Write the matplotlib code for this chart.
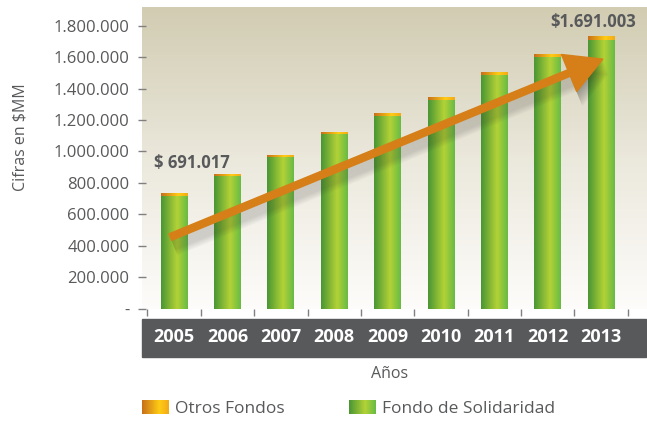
import numpy as np
import matplotlib
matplotlib.use("Agg")
import matplotlib.pyplot as plt
from matplotlib.colors import LinearSegmentedColormap
from matplotlib.ticker import FuncFormatter, FixedLocator
from matplotlib.patches import Rectangle
from matplotlib.legend_handler import HandlerBase
from matplotlib.image import BboxImage
from matplotlib.transforms import Bbox, TransformedBbox
import matplotlib.patheffects as pe

# datos
anios = ["2005", "2006", "2007", "2008", "2009", "2010", "2011", "2012", "2013"]
fondo_solidaridad = [715600, 842400, 963000, 1109500, 1224000, 1328000, 1485000, 1599600, 1708000]
otros_fondos = [19000, 13000, 13000, 13000, 19000, 17000, 19000, 19000, 25000]
etiqueta_ini = "$ 691.017"
etiqueta_fin = "$1.691.003"
yticks = [0, 200000, 400000, 600000, 800000, 1000000, 1200000, 1400000, 1600000, 1800000]

gris = "#58595b"
plt.rcParams['font.family'] = ['Open Sans', 'DejaVu Sans']

cmap_verde = LinearSegmentedColormap.from_list(
    "verde", [(0, "#4a9634"), (0.6, "#b3d236"), (1.0, "#68bb45")])
cmap_naranja = LinearSegmentedColormap.from_list(
    "naranja", [(0, "#c8701a"), (0.65, "#ffcc14"), (1.0, "#f2aa16")])
cmap_fondo = LinearSegmentedColormap.from_list(
    "fondo", [(0, "#fdfcfa"), (0.5, "#ebe8dc"), (1.0, "#d1ccb2")])

fig = plt.figure(figsize=(6.47, 4.21), dpi=100)
ax = fig.add_axes([0.2195, 0.267, 0.779, 0.716])

x = np.arange(len(anios))
grad = np.linspace(0, 1, 100).reshape(1, -1)

# fondo degradado del area de grafico
ax.imshow(np.linspace(0, 1, 100).reshape(-1, 1), extent=[0, 1, 0, 1], origin="lower",
          transform=ax.transAxes, cmap=cmap_fondo, aspect="auto", zorder=0)

b1 = ax.bar(x, fondo_solidaridad, width=0.5, color="#8cc43c", zorder=2, linewidth=0)
b2 = ax.bar(x, otros_fondos, width=0.5, bottom=fondo_solidaridad, color="#f0a81a",
            zorder=2, linewidth=0)

for cont, cm in ((b1, cmap_verde), (b2, cmap_naranja)):
    for r in cont.patches:
        x0, y0 = r.get_x(), r.get_y()
        im = ax.imshow(grad, extent=[x0, x0 + r.get_width(), y0, y0 + r.get_height()],
                       cmap=cm, aspect="auto", zorder=3, interpolation="bilinear")
        im.set_clip_path(r)

# flecha de tendencia con sombra difusa
sombra = [pe.SimplePatchShadow(offset=(0.35 * k, -0.9 * k), shadow_rgbFace="#2a2a2a", alpha=0.035)
          for k in range(12, 0, -1)]
ax.annotate("", xy=(8.03, 1587000), xytext=(-0.07, 455000),
            arrowprops=dict(arrowstyle="simple,head_length=1.05,head_width=1.15,tail_width=0.2",
                            mutation_scale=25, color="#d67f18", shrinkA=0, shrinkB=0,
                            path_effects=sombra + [pe.Normal()]),
            zorder=5)

ax.text(0.34, 925000, etiqueta_ini, ha="center", va="center", fontsize=12,
        fontweight="bold", color=gris, zorder=6)
ax.text(7.85, 1822000, etiqueta_fin, ha="center", va="center", fontsize=12,
        fontweight="bold", color=gris, zorder=6)

ax.set_xlim(-0.6, 8.84)
ax.set_ylim(0, 1917500)
for s in ax.spines.values():
    s.set_visible(False)

ax.set_yticks(yticks)
ax.yaxis.set_major_formatter(FuncFormatter(
    lambda v, p: "-" if v == 0 else f"{int(v):,}".replace(",", ".")))
ax.tick_params(axis="y", direction="inout", length=6, width=1, color="#808080",
               labelsize=12, labelcolor=gris, pad=6)

ax.set_xticks(x)
ax.set_xticklabels(anios)
ax.xaxis.set_minor_locator(FixedLocator(np.arange(-0.5, 9, 1.0)))
ax.tick_params(axis="x", which="major", length=0, pad=14, labelsize=13, labelcolor="white")
for t in ax.get_xticklabels():
    t.set_fontweight("bold")
ax.tick_params(axis="x", which="minor", direction="out", length=5, width=1, color="#808080")

# franja oscura de los anios
ax.add_patch(Rectangle((0, -0.161), 1, 0.126, transform=ax.transAxes,
                       color=gris, clip_on=False, zorder=1))

fig.text(21 / 647, 1 - 137 / 421, "Cifras en $MM", rotation=90, ha="center", va="center",
         fontsize=11.5, color=gris)
fig.text(390 / 647, 1 - 374 / 421, "Años", ha="center", va="center", fontsize=11.5, color=gris)


class GradHandler(HandlerBase):
    def __init__(self, cmap):
        super().__init__()
        self.cmap = cmap

    def create_artists(self, legend, orig_handle, xdescent, ydescent, width, height,
                       fontsize, trans):
        bb = TransformedBbox(Bbox.from_bounds(-xdescent, -ydescent, width, height), trans)
        img = BboxImage(bb, cmap=self.cmap, interpolation="bilinear")
        img.set_data(grad)
        return [img]


h1 = Rectangle((0, 0), 1, 1)
h2 = Rectangle((0, 0), 1, 1)
fig.legend([h1, h2], ["Otros Fondos", "Fondo de Solidaridad"],
           handler_map={h1: GradHandler(cmap_naranja), h2: GradHandler(cmap_verde)},
           loc="center left", bbox_to_anchor=(142 / 647, 1 - 409 / 421), ncol=2,
           frameon=False, fontsize=12.5, labelcolor=gris, handlelength=1.5,
           handleheight=0.8, handletextpad=0.4, columnspacing=3.7, borderpad=0,
           borderaxespad=0)

fig.savefig("out.png", dpi=100)
